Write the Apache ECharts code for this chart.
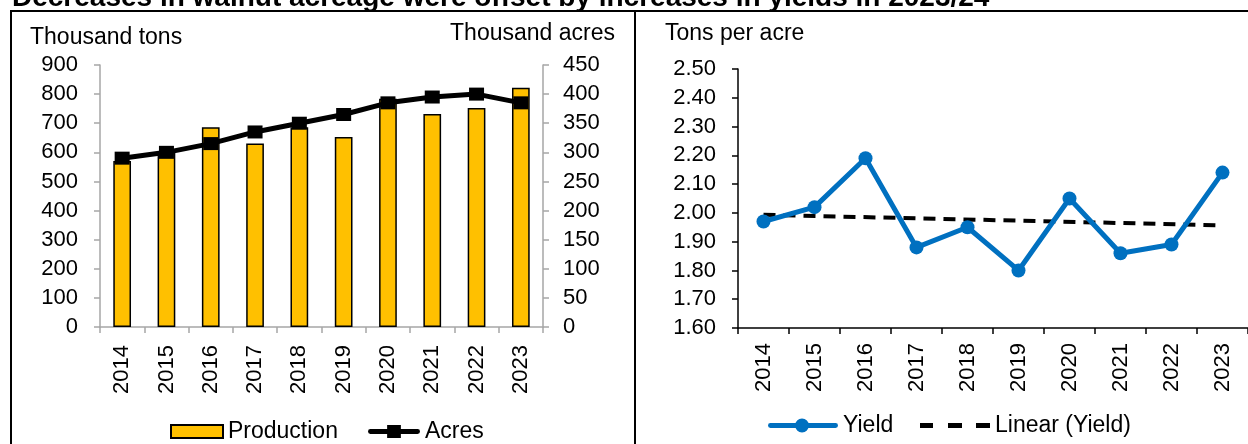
<!DOCTYPE html>
<html>
<head>
<meta charset="utf-8">
<script src="https://cdn.jsdelivr.net/npm/echarts@6/dist/echarts.min.js"></script>
<style>
  html, body { margin: 0; padding: 0; background: #fff; }
  #chart { width: 1248px; height: 444px; }
</style>
</head>
<body>
<div id="chart"></div>
<script>
// Walnut production, bearing acreage and yield, 2014-2023
const years = ['2014', '2015', '2016', '2017', '2018', '2019', '2020', '2021', '2022', '2023'];
const production = [570, 603, 686, 630, 686, 653, 784, 732, 752, 822];   // thousand tons
const acres = [290, 300, 315, 335, 350, 365, 385, 395, 400, 385];         // thousand acres
const yieldPerAcre = [1.97, 2.02, 2.19, 1.88, 1.95, 1.80, 2.05, 1.86, 1.89, 2.14]; // tons per acre

const titleText = 'Decreases in walnut acreage were offset by increases in yields in 2023/24';
const leftUnit = 'Thousand tons';
const rightUnit = 'Thousand acres';
const yieldUnit = 'Tons per acre';

// Least-squares trend of yield against year index (the "Linear (Yield)" series)
function linearFit(values) {
  const n = values.length;
  const mx = (n - 1) / 2;
  const my = values.reduce((a, b) => a + b, 0) / n;
  let sxy = 0, sxx = 0;
  values.forEach((v, i) => { sxy += (i - mx) * (v - my); sxx += (i - mx) * (i - mx); });
  const slope = sxy / sxx;
  return values.map((_, i) => my + slope * (i - mx));
}
const trend = linearFit(yieldPerAcre);
const trendEnds = years.map((y, i) => (i === 0 || i === years.length - 1) ? trend[i] : null);

const FONT = "'Liberation Sans', Arial, sans-serif";
const FS = 22;
const grey = '#a6a6a6';

// legend glyphs: thick line with a marker, and a three-dash line
const ICON_ACRES = 'path://M2,4 L50,4 A2.5,2.5 0 0 1 50,9 L2,9 A2.5,2.5 0 0 1 2,4 Z M19,0 L33,0 L33,13 L19,13 Z';
const ICON_YIELD = 'path://M2,4.5 L68,4.5 A2.5,2.5 0 0 1 68,9.5 L2,9.5 A2.5,2.5 0 0 1 2,4.5 Z M27,7 A7,7 0 1 1 41,7 A7,7 0 1 1 27,7 Z';
const ICON_TREND = 'path://M0,0 L13,0 L13,5 L0,5 Z M28,0 L42,0 L42,5 L28,5 Z M56,0 L70,0 L70,5 L56,5 Z';

const chart = echarts.init(document.getElementById('chart'));

const tickLabel = { color: '#000', fontSize: FS, fontFamily: FONT };
const unitStyle = { fontSize: 23, fontWeight: 'normal', color: '#000', fontFamily: FONT };
const legendText = { fontSize: 23, color: '#000', fontFamily: FONT };

function legendAt(name, left, top, w, h, icon, itemStyle) {
  const item = { name: name };
  if (icon) item.icon = icon;
  if (itemStyle) item.itemStyle = itemStyle;
  return { data: [item], left: left, top: top, padding: 0,
    itemWidth: w, itemHeight: h, textStyle: legendText, selectedMode: false };
}

chart.setOption({
  animation: false,
  backgroundColor: '#fff',
  textStyle: { fontFamily: FONT },
  title: [
    { text: titleText, left: 12, top: -16, padding: 0,
      textStyle: { fontSize: 28, fontWeight: 'bold', color: '#000', fontFamily: FONT } },
    { text: leftUnit, left: 30, top: 26, padding: 0, textStyle: unitStyle },
    { text: rightUnit, right: 633, top: 22, padding: 0, textStyle: unitStyle },
    { text: yieldUnit, left: 665, top: 22, padding: 0, textStyle: unitStyle }
  ],
  graphic: [
    // panel frames
    { type: 'rect', z: 100, silent: true,
      shape: { x: 11, y: 11, width: 624, height: 460 },
      style: { fill: 'none', stroke: '#000', lineWidth: 2 } },
    { type: 'rect', z: 100, silent: true,
      shape: { x: 635, y: 11, width: 640, height: 460 },
      style: { fill: 'none', stroke: '#000', lineWidth: 2 } }
  ],
  legend: [
    legendAt('Production', 170, 420, 52, 13, 'rect', null),
    legendAt('Acres', 368, 420, 52, 13, ICON_ACRES, { color: '#000', borderWidth: 0 }),
    legendAt('Yield', 768, 414, 70, 14, ICON_YIELD, { color: '#0070C0', borderWidth: 0 }),
    legendAt('Linear (Yield)', 920, 414, 70, 5, ICON_TREND, { color: '#000', borderWidth: 0 })
  ],
  grid: [
    { left: 100, width: 443, top: 65, bottom: 117 },
    { left: 738, width: 523, top: 69, bottom: 116 }
  ],
  xAxis: [
    { type: 'category', gridIndex: 0, data: years, boundaryGap: true,
      axisLine: { lineStyle: { color: grey, width: 1.5 } },
      axisTick: { show: true, length: 6, inside: false, lineStyle: { color: grey, width: 1.5 } },
      axisLabel: Object.assign({ rotate: 90, margin: 18, interval: 0 }, tickLabel) },
    { type: 'category', gridIndex: 1, data: years, boundaryGap: true,
      axisLine: { lineStyle: { color: '#000', width: 1.5 } },
      axisTick: { show: true, length: 6, inside: false, lineStyle: { color: '#000', width: 1.5 } },
      axisLabel: Object.assign({ rotate: 90, margin: 15, interval: 0 }, tickLabel) }
  ],
  yAxis: [
    { type: 'value', gridIndex: 0, position: 'left', min: 0, max: 900, interval: 100,
      splitLine: { show: false },
      axisLine: { show: true, lineStyle: { color: grey, width: 1.5 } },
      axisTick: { show: true, length: 6, lineStyle: { color: grey, width: 1.5 } },
      axisLabel: Object.assign({ margin: 22 }, tickLabel) },
    { type: 'value', gridIndex: 0, position: 'right', min: 0, max: 450, interval: 50,
      splitLine: { show: false },
      axisLine: { show: true, lineStyle: { color: grey, width: 1.5 } },
      axisTick: { show: true, length: 6, lineStyle: { color: grey, width: 1.5 } },
      axisLabel: Object.assign({ margin: 20 }, tickLabel) },
    { type: 'value', gridIndex: 1, position: 'left', min: 1.6, max: 2.5, interval: 0.1,
      splitLine: { show: false },
      axisLine: { show: true, lineStyle: { color: '#000', width: 1.5 } },
      axisTick: { show: true, length: 6, lineStyle: { color: '#000', width: 1.5 } },
      axisLabel: Object.assign({ margin: 22, formatter: v => v.toFixed(2) }, tickLabel) }
  ],
  series: [
    { name: 'Production', type: 'bar', xAxisIndex: 0, yAxisIndex: 0,
      data: production, barWidth: '40%',
      itemStyle: { color: '#FFC000', borderColor: '#000', borderWidth: 1.5 } },
    { name: 'Acres', type: 'line', xAxisIndex: 0, yAxisIndex: 1,
      data: acres, symbol: 'rect', symbolSize: [15, 13],
      lineStyle: { color: '#000', width: 5 },
      itemStyle: { color: '#000' }, z: 5 },
    { name: 'Yield', type: 'line', xAxisIndex: 1, yAxisIndex: 2,
      data: yieldPerAcre, symbol: 'circle', symbolSize: 14,
      lineStyle: { color: '#0070C0', width: 5 },
      itemStyle: { color: '#0070C0' }, z: 5 },
    { name: 'Linear (Yield)', type: 'line', xAxisIndex: 1, yAxisIndex: 2,
      data: trendEnds, connectNulls: true, symbol: 'none',
      lineStyle: { color: '#000', width: 4, type: [12, 8] },
      itemStyle: { color: '#000' }, z: 4 }
  ]
});
</script>
</body>
</html>
